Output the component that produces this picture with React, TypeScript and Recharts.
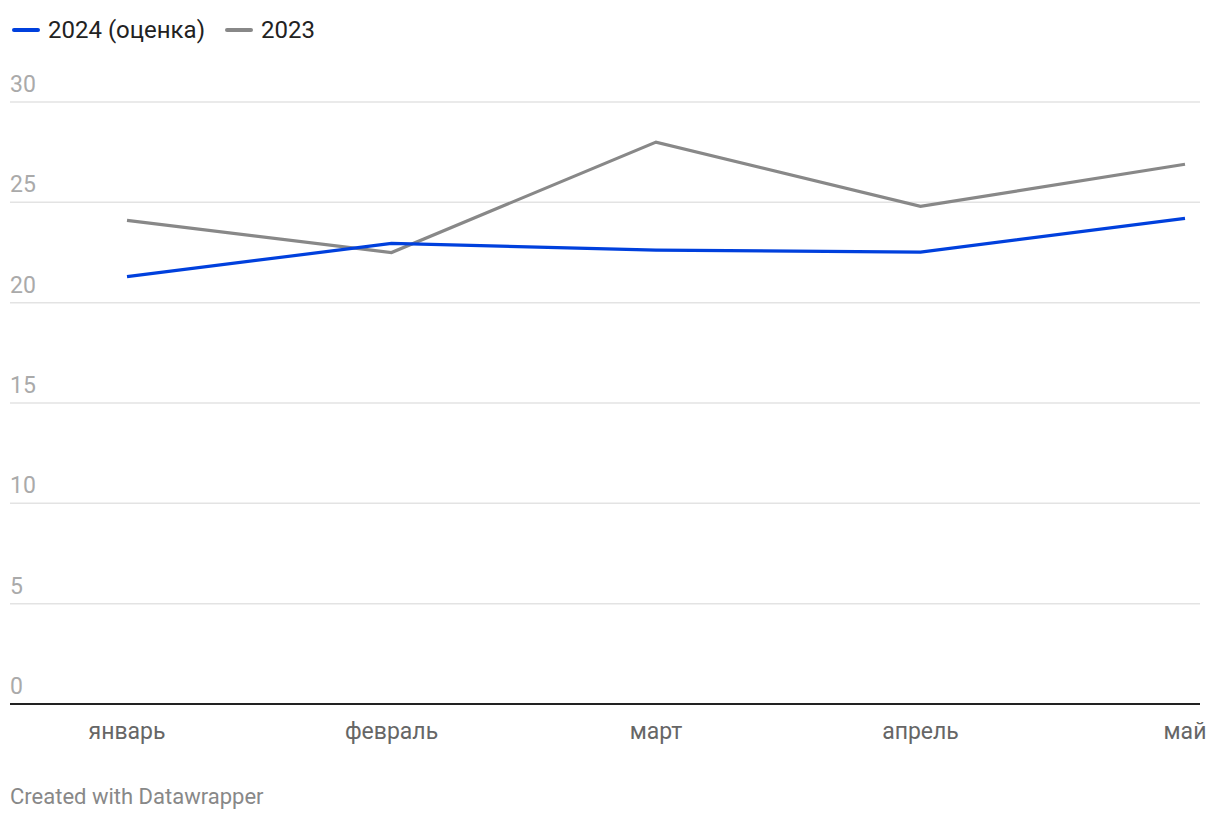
import { LineChart, Line, XAxis, YAxis, CartesianGrid } from 'recharts';

const months = ['январь', 'февраль', 'март', 'апрель', 'май'];
const est2024 = [21.3, 22.95, 22.62, 22.52, 24.2];
const y2023 = [24.1, 22.5, 28.0, 24.8, 26.9];
const yTicks = [0, 5, 10, 15, 20, 25, 30];

const BLUE = '#0040dd';
const GREY = '#888888';
const FONT = 'Roboto, "Noto Sans", sans-serif';

const data = months.map((m, i) => ({ month: m, est2024: est2024[i], y2023: y2023[i] }));

function YTick(props: any) {
  const { y, payload } = props;
  return (
    <text x={10} y={y - 10} fill="#aaaaaa" fontSize={23} fontFamily={FONT} textAnchor="start">
      {payload.value}
    </text>
  );
}

function XTick(props: any) {
  const { x, y, payload } = props;
  return (
    <text x={x} y={y + 35} fill="#666666" fontSize={23} fontFamily={FONT} textAnchor="middle">
      {payload.value}
    </text>
  );
}

function LegendItem({ color, label }: { color: string; label: string }) {
  return (
    <div style={{ display: 'flex', alignItems: 'center', marginRight: 20 }}>
      <div style={{ width: 28, height: 4, borderRadius: 2, background: color, marginRight: 8 }} />
      <span style={{ fontSize: 24, color: '#222' }}>{label}</span>
    </div>
  );
}

export default function App() {
  return (
    <div style={{ position: 'absolute', left: 0, top: 0, width: 1220, height: 820, background: '#fff', fontFamily: FONT }}>
      <div style={{ position: 'absolute', left: 0, top: 0 }}>
        <LineChart width={1220} height={760} data={data} margin={{ top: 102, right: 20, bottom: 26, left: 9 }}>
          <CartesianGrid vertical={false} stroke="#e3e3e3" strokeWidth={1.5} />
          <XAxis
            dataKey="month"
            padding={{ left: 117, right: 15 }}
            axisLine={{ stroke: '#222', strokeWidth: 2 }}
            tickLine={false}
            tickSize={0}
            tickMargin={0}
            tick={<XTick />}
            interval={0}
          />
          <YAxis
            domain={[0, 30]}
            ticks={yTicks}
            width={1}
            axisLine={false}
            tickLine={false}
            tick={<YTick />}
            interval={0}
          />
          <Line dataKey="y2023" stroke={GREY} strokeWidth={3.2} dot={false} isAnimationActive={false} />
          <Line dataKey="est2024" stroke={BLUE} strokeWidth={3.2} dot={false} isAnimationActive={false} />
        </LineChart>
      </div>
      <div style={{ position: 'absolute', left: 12, top: 16, display: 'flex' }}>
        <LegendItem color={BLUE} label="2024 (оценка)" />
        <LegendItem color={GREY} label="2023" />
      </div>
      <div style={{ position: 'absolute', left: 10, top: 784, fontSize: 22, color: '#888' }}>
        Created with Datawrapper
      </div>
    </div>
  );
}
